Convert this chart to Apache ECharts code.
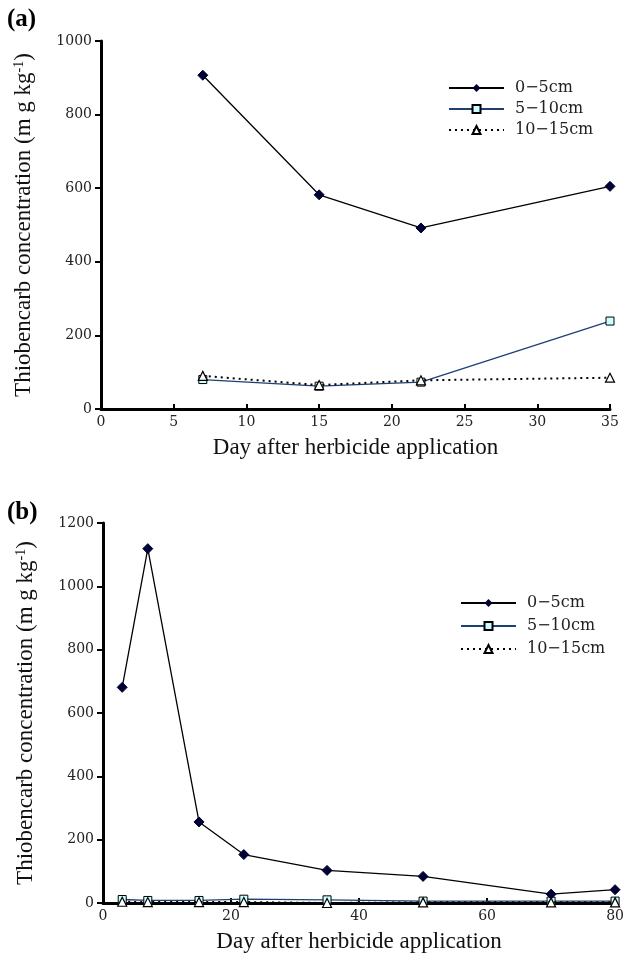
<!DOCTYPE html>
<html><head><meta charset="utf-8">
<script src="https://cdn.jsdelivr.net/npm/echarts@6/dist/echarts.min.js"></script>
<style>html,body{margin:0;padding:0;background:#fff}#c{width:627px;height:954px}</style>
</head><body><div id="c"></div>
<script>
// Panel (a)
const daysA = [7, 15, 22, 35];
const a0_5 = [907, 582, 492, 605];
const a5_10 = [80, 62, 73, 239];
const a10_15 = [90, 65, 78, 85];
// Panel (b)
const daysB = [3, 7, 15, 22, 35, 50, 70, 80];
const b0_5 = [681, 1119, 256, 153, 103, 84, 28, 42];
const b5_10 = [11, 8, 8, 12, 10, 6, 6, 6];
const b10_15 = [4, 3, 3, 3, 0, 2, 2, 2];
const seriesNames = ['0-5cm', '5-10cm', '10-15cm'];
const legendLabels = ['0\u22125cm', '5\u221210cm', '10\u221215cm'];
const yTicksA = {min: 0, max: 1000, interval: 200};
const yTicksB = {min: 0, max: 1200, interval: 200};
const xTicksA = {min: 0, max: 35, interval: 5};
const xTicksB = {min: 0, max: 80, interval: 20};

const pair = (xs, ys) => xs.map((x, i) => [x, ys[i]]);
const tickFont = {fontFamily: 'DejaVu Serif', fontSize: 14, color: '#222'};
const nameFont = {fontFamily: 'Liberation Serif', fontSize: 23, color: '#111'};
const yName = 'Thiobencarb concentration (m g kg{sup|-1})';

function xAxis(idx, t) {
  return {type: 'value', gridIndex: idx, min: t.min, max: t.max, interval: t.interval,
    name: 'Day after herbicide application', nameLocation: 'middle', nameGap: 27,
    nameTextStyle: nameFont,
    axisLine: {lineStyle: {color: '#000', width: 3}},
    axisTick: {inside: true, length: 5, lineStyle: {color: '#000', width: 2}},
    axisLabel: Object.assign({margin: 6, showMaxLabel: true, showMinLabel: true, formatter: v => String(v)}, tickFont),
    splitLine: {show: false}};
}
function yAxis(idx, t) {
  return {type: 'value', gridIndex: idx, min: t.min, max: t.max, interval: t.interval,
    name: yName, nameLocation: 'middle', nameGap: 66, nameRotate: 90,
    nameTextStyle: Object.assign({rich: {sup: {fontFamily: 'Liberation Serif', fontSize: 14, verticalAlign: 'top', padding: [0, 0, 9, 0]}}}, nameFont),
    axisLine: {show: true, lineStyle: {color: '#000', width: 3}},
    axisTick: {show: true, inside: false, length: 6, lineStyle: {color: '#000', width: 2}},
    axisLabel: Object.assign({margin: 9, formatter: v => String(v)}, tickFont),
    splitLine: {show: false}};
}
function mk(xi, xs, v0, v1, v2) {
  return [
    {name: seriesNames[0], type: 'line', xAxisIndex: xi, yAxisIndex: xi, data: pair(xs, v0),
      symbol: 'diamond', symbolSize: 10, itemStyle: {color: '#000033', borderColor: '#000033'},
      lineStyle: {color: '#000', width: 1.3}, z: 4},
    {name: seriesNames[1], type: 'line', xAxisIndex: xi, yAxisIndex: xi, data: pair(xs, v1),
      symbol: 'rect', symbolSize: 8, itemStyle: {color: '#ccffff', borderColor: '#000', borderWidth: 1},
      lineStyle: {color: '#1f3f73', width: 1.3}, z: 3},
    {name: seriesNames[2], type: 'line', xAxisIndex: xi, yAxisIndex: xi, data: pair(xs, v2),
      symbol: 'triangle', symbolSize: 9, itemStyle: {color: '#fff', borderColor: '#000', borderWidth: 1.2},
      lineStyle: {color: '#000', width: 2, type: [2, 4]}, z: 5}
  ];
}
const legendBase = {orient: 'vertical', itemWidth: 55, itemHeight: 10, itemGap: 5,
  textStyle: {fontFamily: 'DejaVu Serif', fontSize: 16, color: '#222', padding: [0, 0, 0, 6]}, data: seriesNames, selectedMode: false,
  formatter: n => legendLabels[seriesNames.indexOf(n)]};

const chart = echarts.init(document.getElementById('c'), null, {renderer: 'canvas'});
chart.setOption({
  backgroundColor: '#fff',
  animation: false,
  grid: [
    {left: 101, right: 17, top: 41, height: 368},
    {left: 103, right: 9, top: 523, height: 382}
  ],
  xAxis: [xAxis(0, xTicksA), xAxis(1, xTicksB)],
  yAxis: [yAxis(0, yTicksA), yAxis(1, yTicksB)],
  legend: [
    Object.assign({left: 443, top: 75}, legendBase),
    Object.assign({}, legendBase, {left: 455, top: 590, itemGap: 7})
  ],
  graphic: [
    {type: 'text', left: 7, top: 7, style: {text: '(a)', font: 'bold 25px "Liberation Serif"', fill: '#000'}},
    {type: 'text', left: 7, top: 500, style: {text: '(b)', font: 'bold 25px "Liberation Serif"', fill: '#000'}}
  ],
  series: mk(0, daysA, a0_5, a5_10, a10_15).concat(mk(1, daysB, b0_5, b5_10, b10_15))
});
</script></body></html>
